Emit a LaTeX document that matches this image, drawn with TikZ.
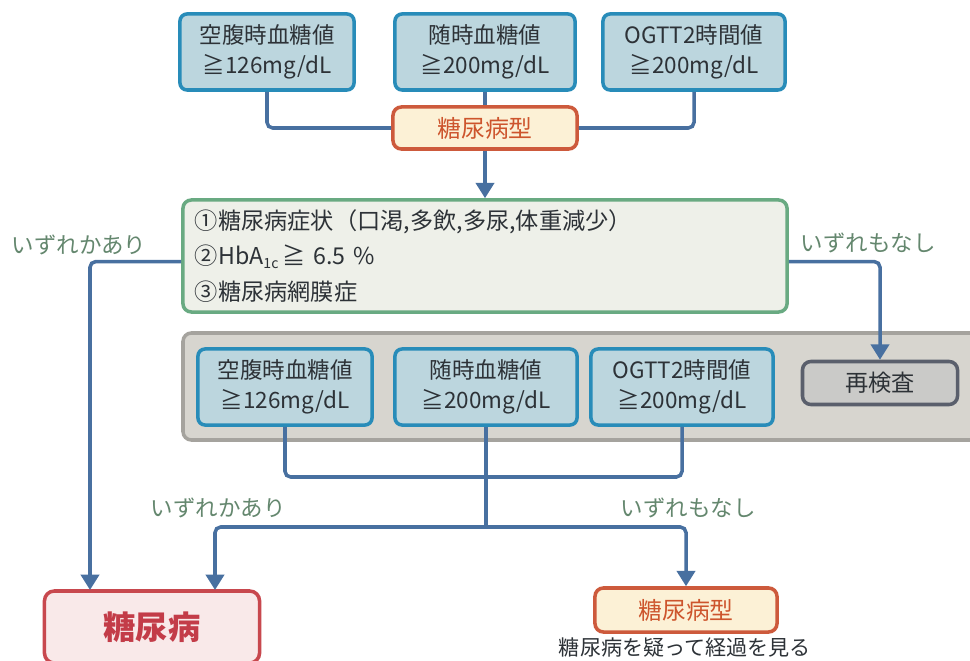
\documentclass[tikz,border=0pt]{standalone}
\usepackage{fontspec}
\setmainfont{Noto Sans CJK JP}
\usetikzlibrary{arrows.meta,positioning,calc}

\definecolor{valfill}{RGB}{188,214,222}
\definecolor{valline}{RGB}{40,140,185}
\definecolor{connblue}{RGB}{72,112,160}
\definecolor{typefill}{RGB}{252,241,214}
\definecolor{typeline}{RGB}{205,90,60}
\definecolor{typetext}{RGB}{205,85,45}
\definecolor{critfill}{RGB}{238,240,233}
\definecolor{critline}{RGB}{105,170,130}
\definecolor{lblgreen}{RGB}{100,135,110}
\definecolor{panelfill}{RGB}{215,213,207}
\definecolor{panelline}{RGB}{165,163,158}
\definecolor{retestfill}{RGB}{202,202,200}
\definecolor{retestline}{RGB}{90,95,108}
\definecolor{dmfill}{RGB}{249,233,233}
\definecolor{dmline}{RGB}{200,72,78}
\definecolor{dmtext}{RGB}{195,60,72}
\definecolor{inktext}{RGB}{45,50,55}

\begin{document}
\begin{tikzpicture}[x=0.025cm, y=-0.025cm,
    valbox/.style={draw=valline, fill=valfill, line width=2.5pt, rounded corners=5pt, minimum width=4.35cm, minimum height=1.9cm, align=center, text=inktext, font=\fontsize{16}{21}\selectfont},
    typebox/.style={draw=typeline, fill=typefill, line width=2.5pt, rounded corners=6pt, minimum width=4.6cm, minimum height=1.05cm, text=typetext, font=\fontsize{17}{20}\selectfont},
    branch/.style={text=lblgreen, font=\fontsize{16}{20}\selectfont},
    conn/.style={draw=connblue, line width=2.5pt, rounded corners=4pt},
    arr/.style={conn, -{Triangle[width=13pt,length=11pt]}}]

    % page
    \fill[white] (0,0) rectangle (970,661);
    \useasboundingbox (0,0) rectangle (970,661);

    % first test values
    \node[valbox] (fpgA) at (267,52) {空腹時血糖値\\≧126mg/dL};
    \node[valbox, minimum width=4.5cm] (rndA) at (485,52) {随時血糖値\\≧200mg/dL};
    \node[valbox, minimum width=4.55cm] (ogttA) at (694,52) {OGTT2時間値\\≧200mg/dL};
    \node[typebox] (typeA) at (485,128) {糖尿病型};

    \draw[conn] (fpgA.south) |- (typeA.west);
    \draw[conn] (rndA.south) -- (typeA.north);
    \draw[conn] (ogttA.south) |- (typeA.east);

    % criteria box
    \node[draw=critline, fill=critfill, line width=2.5pt, rounded corners=6pt, minimum width=15.1cm, minimum height=2.8cm, text width=14.5cm, align=left, text=inktext, font=\fontsize{16.5}{25}\selectfont] (crit) at (485,256)
        {①糖尿病症状（口渇,多飲,多尿,体重減少）\\
         ②HbA\raisebox{-0.3ex}{\fontsize{10}{10}\selectfont 1c}\,≧ 6.5 \%\\
         ③糖尿病網膜症};
    \draw[arr] (typeA.south) -- (crit.north);

    \node[branch] (anyA) at (79,245) {いずれかあり};
    \node[branch] (noneA) at (868,243) {いずれもなし};

    % retest panel
    \draw[draw=panelline, fill=panelfill, line width=2.5pt, rounded corners=6pt] (183,333) rectangle (990,440);
    \node[valbox] (fpgB) at (285,387) {空腹時血糖値\\≧126mg/dL};
    \node[valbox, minimum width=4.55cm] (rndB) at (486,387) {随時血糖値\\≧200mg/dL};
    \node[valbox, minimum width=4.55cm] (ogttB) at (682,387) {OGTT2時間値\\≧200mg/dL};
    \node[draw=retestline, fill=retestfill, line width=2.5pt, rounded corners=6pt, minimum width=3.875cm, minimum height=1.075cm, text=inktext, font=\fontsize{16.5}{20}\selectfont] (retest) at (880,383) {再検査};

    % outcomes
    \node[draw=dmline, fill=dmfill, line width=2.5pt, rounded corners=7pt, minimum width=5.375cm, minimum height=1.8cm, text=dmtext, font=\fontsize{23}{26}\selectfont\bfseries] (dm) at (152,627) {糖尿病};
    \node[typebox, minimum width=4.55cm, minimum height=1.1cm] (typeB) at (686,610) {糖尿病型};
    \node[text=inktext, font=\fontsize{15}{18}\selectfont] (watch) at (685,648) {糖尿病を疑って経過を見る};

    \coordinate (dmL) at (90,590);
    \coordinate (dmR) at (215,590);
    \coordinate (join) at (486,477);
    \coordinate (split) at (486,527);

    \draw[arr] ([yshift=-4pt]crit.west) -| (dmL);
    \draw[arr] ([yshift=-4pt]crit.east) -| (retest.north);

    \draw[conn] (fpgB.south) |- (join) -| (ogttB.south);
    \draw[conn] (rndB.south) -- (split);
    \draw[arr] (split) -| (dmR);
    \draw[arr] (split) -| (typeB.north);

    \node[branch] (anyB) at (218,508) {いずれかあり};
    \node[branch] (noneB) at (688,508) {いずれもなし};
\end{tikzpicture}
\end{document}
